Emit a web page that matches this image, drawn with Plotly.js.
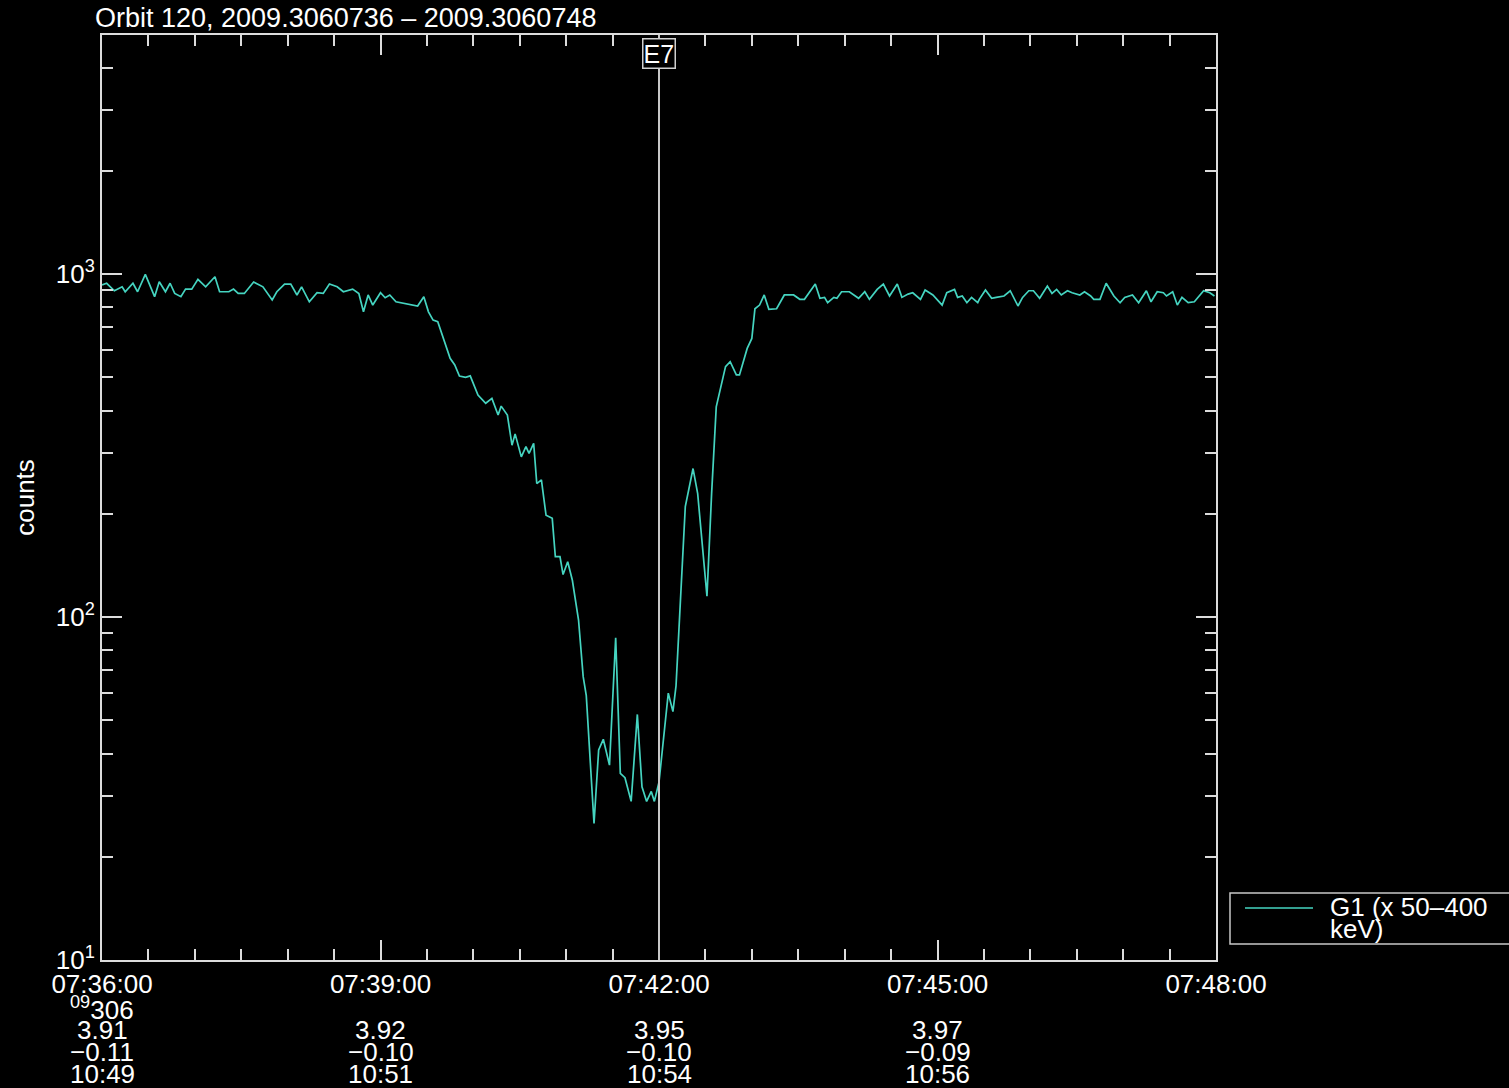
<!DOCTYPE html>
<html>
<head>
<meta charset="utf-8">
<script src="https://cdn.plot.ly/plotly-3.0.1.min.js"></script>
<style>
  html, body { margin: 0; padding: 0; background: #000; }
  #chart { width: 1509px; height: 1088px; }
</style>
</head>
<body>
<div id="chart"></div>
<script>
// Day 306 of 2009 (2 Nov), G1 detector count rate across the E7 crossing.
const dayStamp = '2009-11-02 ';

// Seconds after 07:36:00 and the counts at those moments.
const tSec = [
  0, 3, 8, 13, 15, 20, 23, 28, 34, 37,
  41, 44, 47, 51, 54, 58, 62, 67, 73, 76,
  82, 85, 88, 92, 98, 104, 110, 113, 118, 122,
  126, 129, 134, 139, 143, 147, 152, 156, 162, 166,
  169, 172, 175, 180, 183, 186, 190, 195, 199, 204,
  208, 211, 214, 217, 225, 228, 231, 235, 238, 243,
  248, 252, 256, 258, 262, 265, 267, 271, 274, 276,
  279, 281, 284, 287, 291, 293, 296, 298, 301, 304,
  308, 311, 313, 318, 321, 324, 328, 332, 335, 338,
  342, 346, 349, 352, 355, 357, 360, 363, 366, 369,
  371, 377, 382, 385, 391, 394, 397, 399, 403, 406,
  410, 412, 417, 420, 422, 425, 428, 431, 436, 441,
  447, 451, 454, 461, 464, 467, 469, 473, 475, 478,
  483, 489, 493, 496, 501, 505, 509, 514, 517, 521,
  524, 529, 532, 537, 543, 546, 551, 553, 556, 559,
  562, 566, 567, 571, 575, 578, 583, 587, 592, 595,
  599, 602, 606, 611, 614, 617, 620, 624, 627, 632,
  635, 639, 641, 645, 649, 654, 658, 661, 666, 670,
  675, 678, 682, 686, 688, 692, 695, 698, 702, 706,
  712, 716, 719
];
const counts = [
  930, 940, 894, 918, 888, 940, 888, 998, 859, 950,
  888, 940, 878, 859, 904, 904, 965, 918, 982, 888,
  888, 904, 878, 878, 948, 918, 840, 888, 935, 935,
  869, 918, 830, 882, 878, 935, 918, 888, 904, 878,
  776, 869, 812, 882, 853, 869, 830, 821, 818, 807,
  859, 776, 734, 726, 568, 543, 504, 500, 505, 444,
  420, 434, 388, 412, 388, 317, 342, 293, 314, 300,
  321, 245, 251, 198, 194, 150, 150, 133, 145, 128,
  98, 67, 59, 25, 41, 44, 37, 87, 35, 34,
  29, 52, 32, 29, 31, 29, 33, 45, 60, 53,
  63, 210, 271, 229, 115, 229, 410, 449, 537, 555,
  508, 508, 607, 649, 792, 812, 869, 789, 792, 869,
  869, 844, 844, 935, 850, 855, 825, 855, 850, 888,
  888, 850, 888, 844, 902, 935, 863, 935, 855, 874,
  882, 844, 898, 869, 812, 882, 902, 855, 863, 825,
  855, 825, 844, 898, 850, 855, 863, 894, 807, 855,
  894, 894, 850, 923, 878, 902, 869, 894, 882, 869,
  888, 863, 844, 844, 940, 863, 825, 855, 869, 825,
  894, 830, 888, 882, 863, 888, 812, 855, 825, 830,
  894, 882, 863
];

// Time axis labels and the ephemeris rows printed under them.
const timeTicks = ['07:36:00', '07:39:00', '07:42:00', '07:45:00', '07:48:00'];
const yearTag = '09';
const dayOfYear = '306';
const lShell = ['3.91', '3.92', '3.95', '3.97'];
const magLat = ['\u22120.11', '\u22120.10', '\u22120.10', '\u22120.09'];
const localTime = ['10:49', '10:51', '10:54', '10:56'];

// Log axis decades and minor ticks.
const yTickVals = [10, 100, 1000];
const yTickText = ['10<sup>1</sup>', '10<sup>2</sup>', '10<sup>3</sup>'];
const yMinorVals = [20, 30, 40, 50, 60, 70, 80, 90,
                    200, 300, 400, 500, 600, 700, 800, 900,
                    2000, 3000, 4000];

// Event marker.
const eventTime = '07:42:00';
const eventName = 'E7';

// Key text, split over two lines.
const keyLines = ['G1 (x 50\u2013400', 'keV)'];
const titleText = 'Orbit 120, 2009.3060736 \u2013 2009.3060748';

function pad2(n) { return (n < 10 ? '0' : '') + n; }
function stampFromSec(s) {
  const m = 36 + Math.floor(s / 60);
  return dayStamp + '07:' + pad2(m) + ':' + pad2(s % 60);
}

const FONT = '"Liberation Sans", Arial, Helvetica, sans-serif';
const axisColor = '#dcdcdc';
const lineColor = '#45d4c0';

const trace = {
  type: 'scatter',
  mode: 'lines',
  x: tSec.map(stampFromSec),
  y: counts,
  name: keyLines.join(' '),
  line: { color: lineColor, width: 1.7 },
  showlegend: false
};

// Ephemeris rows beneath the time labels.
const rowShift = [-70, -92, -114];
const annotations = [];
annotations.push({
  x: dayStamp + timeTicks[0], xref: 'x', y: 0, yref: 'paper',
  yanchor: 'middle', yshift: -48, showarrow: false,
  text: '<sup>' + yearTag + '</sup>' + dayOfYear,
  font: { size: 26, color: '#fff' }
});
[lShell, magLat, localTime].forEach(function (row, r) {
  row.forEach(function (txt, i) {
    annotations.push({
      x: dayStamp + timeTicks[i], xref: 'x', y: 0, yref: 'paper',
      yanchor: 'middle', yshift: rowShift[r], showarrow: false,
      text: txt, font: { size: 26, color: '#fff' }
    });
  });
});
annotations.push({
  x: dayStamp + eventTime, xref: 'x', y: 1, yref: 'paper',
  yanchor: 'top', yshift: -3, showarrow: false,
  text: eventName, font: { size: 25, color: '#fff' },
  bgcolor: '#000', bordercolor: '#d0d0d0', borderwidth: 1.5, borderpad: 0
});

// Key box in the right margin: swatch line plus two text lines.
const keyX0 = (1230 - 102) / 1114, keyX1 = (1514 - 102) / 1114;
const keyY0 = (960 - 944) / 925, keyY1 = (960 - 893) / 925;
const swatchX0 = (1245 - 102) / 1114, swatchX1 = (1313 - 102) / 1114;
const swatchY = (960 - 908) / 925;
const keyTextX = (1328 - 102) / 1114;
[53, 31].forEach(function (shift, i) {
  annotations.push({
    x: keyTextX, xref: 'paper', xanchor: 'left',
    y: 0, yref: 'paper', yanchor: 'middle', yshift: shift,
    showarrow: false, text: keyLines[i],
    font: { size: 26, color: '#fff' }
  });
});

const layout = {
  width: 1509,
  height: 1088,
  paper_bgcolor: '#000',
  plot_bgcolor: '#000',
  margin: { l: 102, r: 293, t: 35, b: 128, autoexpand: false },
  font: { family: FONT, size: 26, color: '#fff' },
  title: {
    text: titleText,
    x: 95 / 1509, xref: 'container', xanchor: 'left',
    y: 1 - 18 / 1088, yref: 'container', yanchor: 'middle',
    font: { family: FONT, size: 27, color: '#fff' }
  },
  xaxis: {
    type: 'date',
    range: [dayStamp + timeTicks[0], dayStamp + timeTicks[timeTicks.length - 1]],
    tickmode: 'array',
    tickvals: timeTicks.map(function (t) { return dayStamp + t; }),
    ticktext: timeTicks,
    ticks: 'inside', ticklen: 20, tickwidth: 2, tickcolor: axisColor,
    minor: {
      ticks: 'inside', ticklen: 11, tickwidth: 2, tickcolor: axisColor,
      dtick: 30000, tick0: dayStamp + timeTicks[0], showgrid: false
    },
    showline: true, linecolor: axisColor, linewidth: 2, mirror: 'allticks',
    showgrid: false, zeroline: false,
    tickfont: { family: FONT, size: 26, color: '#fff' }
  },
  yaxis: {
    type: 'log',
    range: [1, 3.697],
    tickmode: 'array',
    tickvals: yTickVals,
    ticktext: yTickText,
    ticks: 'inside', ticklen: 20, tickwidth: 2, tickcolor: axisColor,
    minor: {
      ticks: 'inside', ticklen: 11, tickwidth: 2, tickcolor: axisColor,
      tickmode: 'array', tickvals: yMinorVals, showgrid: false
    },
    showline: true, linecolor: axisColor, linewidth: 2, mirror: 'allticks',
    showgrid: false, zeroline: false,
    tickfont: { family: FONT, size: 26, color: '#fff' },
    title: { text: 'counts', font: { family: FONT, size: 26, color: '#fff' }, standoff: 14 }
  },
  showlegend: false,
  shapes: [
    {
      type: 'line', xref: 'x', yref: 'paper',
      x0: dayStamp + eventTime, x1: dayStamp + eventTime, y0: 0, y1: 1,
      line: { color: '#c8c8c8', width: 2 }
    },
    {
      type: 'rect', xref: 'paper', yref: 'paper',
      x0: keyX0, x1: keyX1, y0: keyY0, y1: keyY1,
      line: { color: '#c8c8c8', width: 1.5 }, fillcolor: '#000'
    },
    {
      type: 'line', xref: 'paper', yref: 'paper',
      x0: swatchX0, x1: swatchX1, y0: swatchY, y1: swatchY,
      line: { color: lineColor, width: 1.7 }
    }
  ],
  annotations: annotations
};

Plotly.newPlot('chart', [trace], layout, { displayModeBar: false, staticPlot: true });
</script>
</body>
</html>
